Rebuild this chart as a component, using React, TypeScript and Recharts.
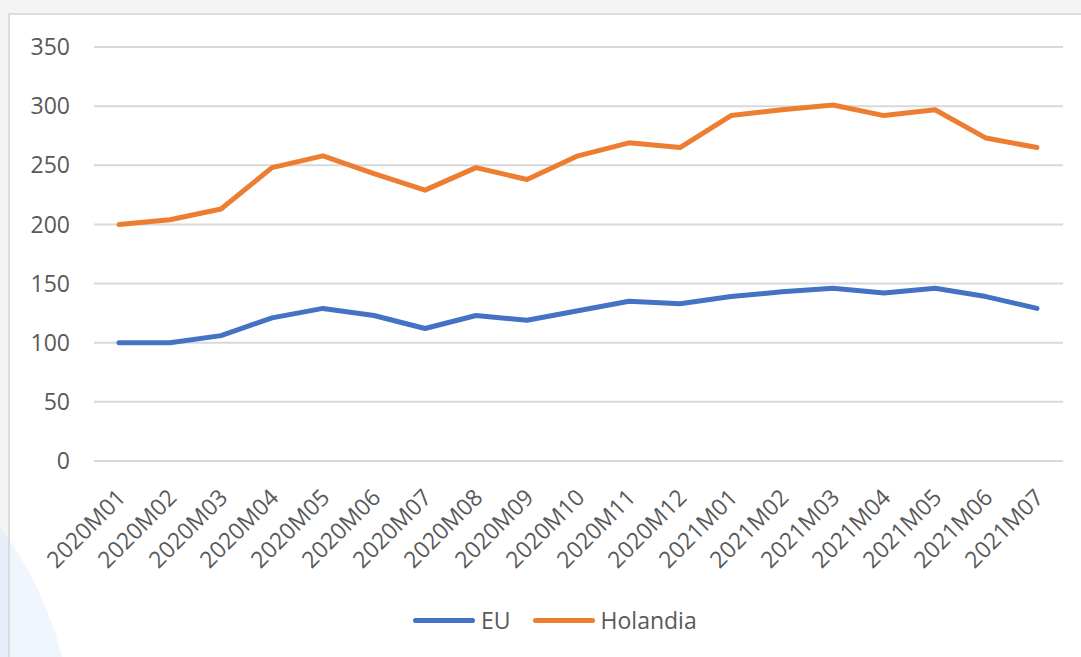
import { LineChart, Line, XAxis, YAxis, CartesianGrid, Legend } from "recharts";

const months = [
  "2020M01", "2020M02", "2020M03", "2020M04", "2020M05", "2020M06", "2020M07",
  "2020M08", "2020M09", "2020M10", "2020M11", "2020M12", "2021M01", "2021M02",
  "2021M03", "2021M04", "2021M05", "2021M06", "2021M07",
];

const euValues = [100, 100, 106, 121, 129, 123, 112, 123, 119, 127, 135, 133, 139, 143, 146, 142, 146, 139, 129];

const holandiaValues = [200, 204, 213, 248, 258, 243, 229, 248, 238, 258, 269, 265, 292, 297, 301, 292, 297, 273, 265];

const yTicks = [0, 50, 100, 150, 200, 250, 300, 350];

const seriesColors = { EU: "#4472C4", Holandia: "#ED7D31" };

const data = months.map((month, i) => ({
  month,
  EU: euValues[i],
  Holandia: holandiaValues[i],
}));

const FONT = "'Open Sans', 'DejaVu Sans', sans-serif";
const TEXT = "#595959";

const MonthTick = (props: any) => {
  const { x, y, payload } = props;
  const ax = x + 8;
  const ay = y + 38;
  return (
    <text
      x={ax}
      y={ay}
      textAnchor="end"
      fill={TEXT}
      fontSize={23}
      fontFamily={FONT}
      transform={`rotate(-45, ${ax}, ${ay})`}
    >
      {payload.value}
    </text>
  );
};

const LegendBox = () => (
  <div style={{ display: "flex", alignItems: "center", fontFamily: FONT, fontSize: 23, color: TEXT }}>
    {(["EU", "Holandia"] as const).map((name, i) => (
      <div key={name} style={{ display: "flex", alignItems: "center", marginLeft: i ? 22 : 0 }}>
        <div
          style={{
            width: 62,
            height: 5,
            borderRadius: 3,
            background: seriesColors[name],
            marginRight: 6,
          }}
        />
        <span>{name}</span>
      </div>
    ))}
  </div>
);

export default function App() {
  return (
    <div
      style={{
        position: "absolute",
        left: 0,
        top: 0,
        width: 1081,
        height: 657,
        overflow: "hidden",
        background: "#f3f4f6",
      }}
    >
      {/* decorative circle behind the card */}
      <div
        style={{
          position: "absolute",
          left: -674,
          top: 376,
          width: 748,
          height: 748,
          borderRadius: "50%",
          background: "#e6eff9",
        }}
      />
      <div
        style={{
          position: "absolute",
          left: 8,
          top: 13,
          width: 1100,
          height: 700,
          background: "#fff",
          borderLeft: "2px solid #dcdcdc",
          borderTop: "2px solid #dcdcdc",
          overflow: "hidden",
        }}
      >
        <div
          style={{
            position: "absolute",
            left: -684,
            top: 361,
            width: 748,
            height: 748,
            borderRadius: "50%",
            background: "#f0f6fd",
          }}
        />
      </div>
      <div style={{ position: "absolute", left: 0, top: 0 }}>
        <LineChart
          width={1081}
          height={657}
          data={data}
          margin={{ top: 47, right: 18, left: 0, bottom: 0 }}
        >
          <CartesianGrid vertical={false} stroke="#d9d9d9" strokeWidth={2} />
          <XAxis
            dataKey="month"
            height={196}
            padding={{ left: 25, right: 26 }}
            tickLine={false}
            tickSize={0}
            tickMargin={0}
            axisLine={{ stroke: "#d9d9d9", strokeWidth: 2 }}
            interval={0}
            tick={<MonthTick />}
          />
          <YAxis
            width={94}
            domain={[0, 350]}
            ticks={yTicks}
            axisLine={false}
            tickLine={false}
            tickSize={0}
            tickMargin={24}
            tick={{ fill: TEXT, fontSize: 23, fontFamily: FONT }}
          />
          <Legend
            layout="horizontal"
            verticalAlign="middle"
            align="center"
            wrapperStyle={{ top: 604, left: 413, width: 320 }}
            content={<LegendBox />}
          />
          <Line
            type="linear"
            dataKey="EU"
            stroke={seriesColors.EU}
            strokeWidth={5}
            strokeLinecap="round"
            strokeLinejoin="round"
            dot={false}
            isAnimationActive={false}
          />
          <Line
            type="linear"
            dataKey="Holandia"
            stroke={seriesColors.Holandia}
            strokeWidth={5}
            strokeLinecap="round"
            strokeLinejoin="round"
            dot={false}
            isAnimationActive={false}
          />
        </LineChart>
      </div>
    </div>
  );
}
